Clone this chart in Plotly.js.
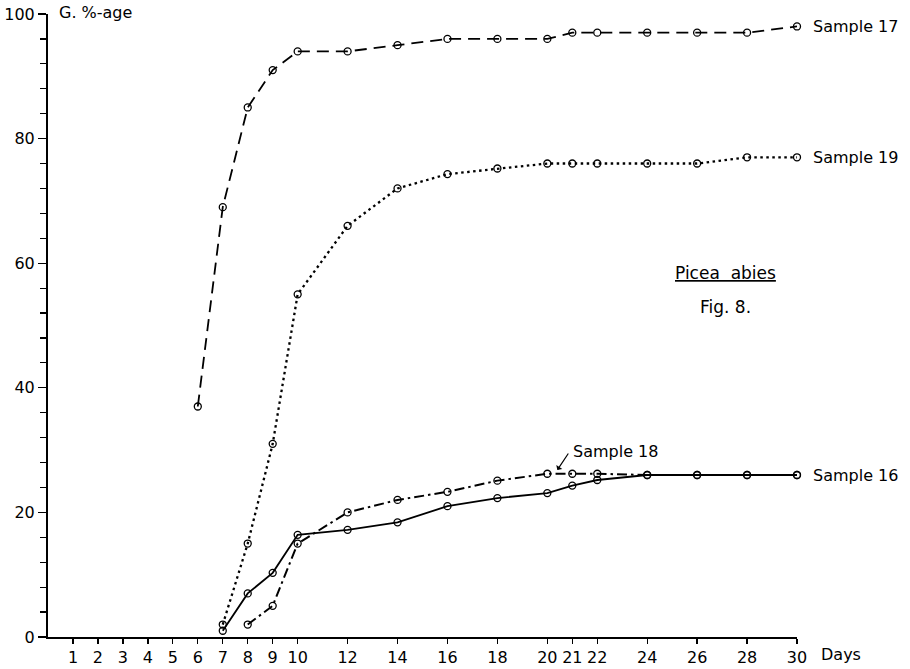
<!DOCTYPE html>
<html>
<head>
<meta charset="utf-8">
<script src="https://cdn.plot.ly/plotly-3.0.1.min.js"></script>
<style>html,body{margin:0;padding:0;background:#fff;}#chart{width:910px;height:669px;}</style>
</head>
<body>
<div id="chart"></div>
<script>
// Days
const days17 = [6, 7, 8, 9, 10, 12, 14, 16, 18, 20, 21, 22, 24, 26, 28, 30];
const sample17 = [37, 69, 85, 91, 94, 94, 95, 96, 96, 96, 97, 97, 97, 97, 97, 98];

const days19 = [7, 8, 9, 10, 12, 14, 16, 18, 20, 21, 22, 24, 26, 28, 30];
const sample19 = [2, 15, 31, 55, 66, 72, 74.3, 75.2, 76, 76, 76, 76, 76, 77, 77];

const days16 = [7, 8, 9, 10, 12, 14, 16, 18, 20, 21, 22, 24, 26, 28, 30];
const sample16 = [1, 7, 10.3, 16.4, 17.2, 18.4, 21, 22.3, 23.1, 24.3, 25.2, 26, 26, 26, 26];

const days18 = [8, 9, 10, 12, 14, 16, 18, 20, 21, 22, 24, 26, 28, 30];
const sample18 = [2, 5, 15, 20, 22, 23.3, 25.1, 26.2, 26.2, 26.2, 26, 26, 26, 26];

const xTicks = [1, 2, 3, 4, 5, 6, 7, 8, 9, 10, 12, 14, 16, 18, 20, 21, 22, 24, 26, 28, 30];
const yTicks = [0, 20, 40, 60, 80, 100];

const FONT = 'DejaVu Sans, Liberation Sans, sans-serif';
const marker = {symbol: 'circle-open', size: 7, color: '#000', line: {width: 1.3, color: '#000'}};

function tr(x, y, dash, width, name) {
  return {x: x, y: y, type: 'scatter', mode: 'lines+markers', name: name,
    line: {color: '#000', width: width, dash: dash}, marker: marker, cliponaxis: false};
}

const data = [
  tr(days17, sample17, '12px,7px', 1.8, 'Sample 17'),
  tr(days19, sample19, '2.5px,3.5px', 2.3, 'Sample 19'),
  tr(days16, sample16, 'solid', 1.8, 'Sample 16'),
  tr(days18, sample18, '10px,4px,2.5px,4px', 2, 'Sample 18')
];

const layout = {
  width: 910, height: 669,
  margin: {l: 48, r: 113, t: 14, b: 32},
  paper_bgcolor: '#fff', plot_bgcolor: '#fff',
  showlegend: false,
  font: {family: FONT, color: '#000', size: 16},
  xaxis: {
    range: [0, 30], tickmode: 'array', tickvals: xTicks, ticktext: xTicks.map(String),
    ticks: 'outside', ticklen: 5, tickwidth: 1.3, tickcolor: '#000',
    showline: true, linecolor: '#000', linewidth: 2, showgrid: false, zeroline: false,
    tickfont: {family: FONT, size: 16, color: '#000'}
  },
  yaxis: {
    range: [0, 100], tickmode: 'array', tickvals: yTicks, ticktext: yTicks.map(String),
    ticks: 'outside', ticklen: 8, tickwidth: 1.3, tickcolor: '#000',
    minor: {dtick: 4, tick0: 0, ticks: 'outside', ticklen: 6, tickwidth: 1.2, tickcolor: '#000', showgrid: false},
    showline: true, linecolor: '#000', linewidth: 2, showgrid: false, zeroline: false,
    tickfont: {family: FONT, size: 16, color: '#000'}
  },
  annotations: [
    {xref: 'paper', yref: 'paper', x: 0.012, y: 1.0, xanchor: 'left', yanchor: 'middle', yshift: 2,
     text: 'G. %-age', showarrow: false, font: {family: FONT, size: 16}},
    {xref: 'paper', yref: 'paper', x: 1.0, y: 0, xanchor: 'left', yanchor: 'top', xshift: 22, yshift: -6,
     text: 'Days', showarrow: false, font: {family: FONT, size: 16}},
    {xref: 'x', yref: 'y', x: 30, y: 98, xanchor: 'left', yanchor: 'middle', xshift: 14,
     text: 'Sample 17', showarrow: false, font: {family: FONT, size: 16}},
    {xref: 'x', yref: 'y', x: 30, y: 77, xanchor: 'left', yanchor: 'middle', xshift: 14,
     text: 'Sample 19', showarrow: false, font: {family: FONT, size: 16}},
    {xref: 'x', yref: 'y', x: 30, y: 26, xanchor: 'left', yanchor: 'middle', xshift: 14,
     text: 'Sample 16', showarrow: false, font: {family: FONT, size: 16}},
    {xref: 'x', yref: 'y', x: 20.4, y: 26.8, ax: 12, ay: -18,
     showarrow: true, arrowhead: 1, arrowsize: 1, arrowwidth: 1.2, arrowcolor: '#000',
     text: '', font: {size: 1}},
    {xref: 'x', yref: 'y', x: 20.95, y: 29.8, xanchor: 'left', yanchor: 'middle',
     text: 'Sample 18', showarrow: false, font: {family: FONT, size: 16}},
    {xref: 'x', yref: 'y', x: 27.15, y: 58.5, xanchor: 'center', yanchor: 'middle',
     text: '<u>Picea  abies</u>', showarrow: false, font: {family: FONT, size: 17}},
    {xref: 'x', yref: 'y', x: 27.15, y: 53, xanchor: 'center', yanchor: 'middle',
     text: 'Fig. 8.', showarrow: false, font: {family: FONT, size: 17}}
  ]
};

Plotly.newPlot('chart', data, layout, {displayModeBar: false, staticPlot: true});
</script>
</body>
</html>
